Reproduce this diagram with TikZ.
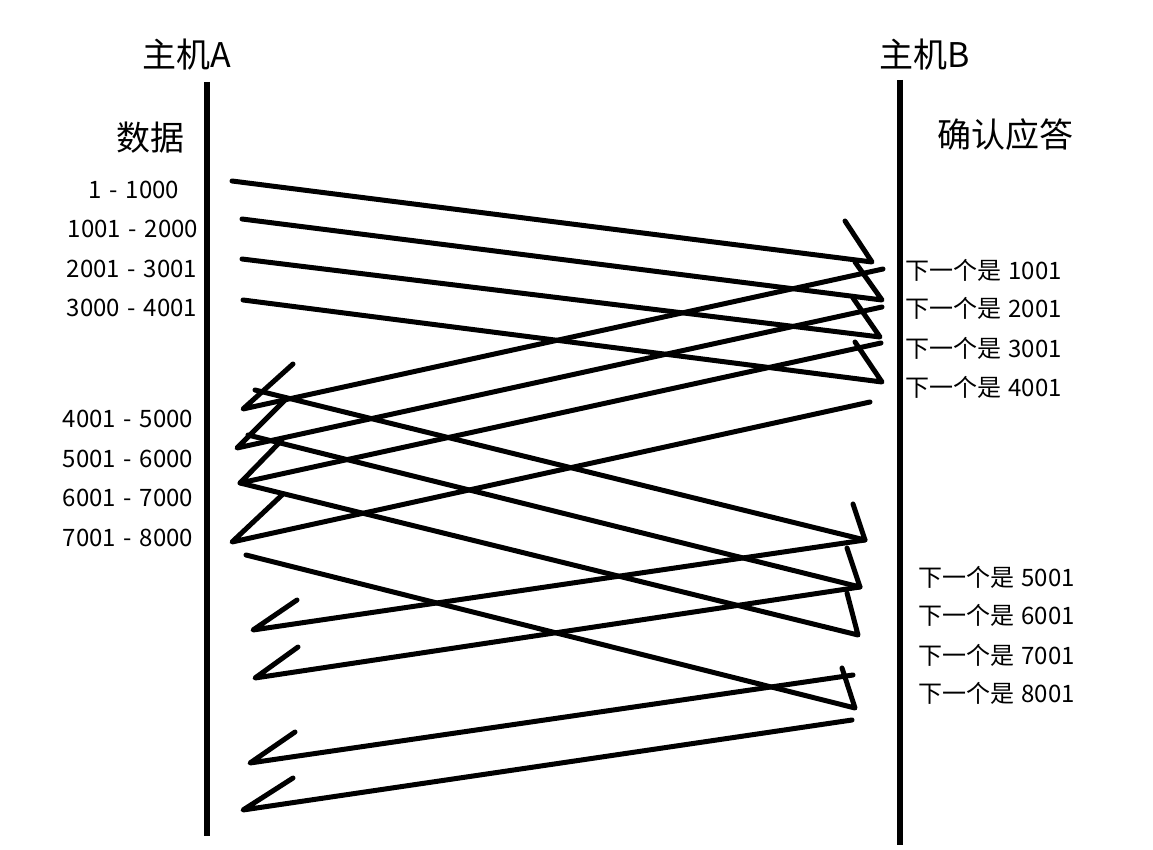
\documentclass[tikz,border=0pt]{standalone}
\usepackage{fontspec}
\setmainfont{Noto Sans CJK SC}
\newcommand\rngsep{\hspace{0.32em}-\hspace{0.32em}}
\begin{document}
\begin{tikzpicture}[x=1pt,y=-1pt,
  msg/.style={line width=5pt, line cap=round, line join=round},
  host/.style={line width=6pt},
  title/.style={font=\fontsize{34}{40}\selectfont, inner sep=0pt},
  lab/.style={font=\fontsize{24}{28}\selectfont, inner sep=0pt}]
\useasboundingbox (0,0) rectangle (1153,850);
\fill[white] (0,0) rectangle (1153,850);

% host lines
\coordinate (At) at (207,82);  \coordinate (Ab) at (207,836);
\coordinate (Bt) at (900,80);  \coordinate (Bb) at (900,845);
\draw[host] (At) -- (Ab);
\draw[host] (Bt) -- (Bb);

% titles
\node[title] (hA) at (187,55) {主机A};
\node[title] (hB) at (925,55) {主机B};
\node[title] (data) at (150,138) {数据};
\node[title] (ack) at (1005,135) {确认应答};

% data labels
\node[lab] (l1) at (134,190) {1\rngsep1000};
\node[lab] (l2) at (133,229) {1001\rngsep2000};
\node[lab] (l3) at (132,269) {2001\rngsep3001};
\node[lab] (l4) at (132,308) {3000\rngsep4001};
\node[lab] (l5) at (128,419) {4001\rngsep5000};
\node[lab] (l6) at (128,459) {5001\rngsep6000};
\node[lab] (l7) at (128,498) {6001\rngsep7000};
\node[lab] (l8) at (128,538) {7001\rngsep8000};

% ack labels
\node[lab,anchor=west] (k1) at (905,270) {下一个是\hspace{0.3em}1001};
\node[lab,anchor=west] (k2) at (905,308) {下一个是\hspace{0.3em}2001};
\node[lab,anchor=west] (k3) at (905,348) {下一个是\hspace{0.3em}3001};
\node[lab,anchor=west] (k4) at (905,387) {下一个是\hspace{0.3em}4001};
\node[lab,anchor=west] (k5) at (918,577) {下一个是\hspace{0.3em}5001};
\node[lab,anchor=west] (k6) at (918,615) {下一个是\hspace{0.3em}6001};
\node[lab,anchor=west] (k7) at (918,655) {下一个是\hspace{0.3em}7001};
\node[lab,anchor=west] (k8) at (918,693) {下一个是\hspace{0.3em}8001};

% data segments A -> B
\coordinate (d1s) at (232,181); \coordinate (d1e) at (872,262); \coordinate (d1t) at (845,221);
\coordinate (d2s) at (242,219); \coordinate (d2e) at (882,300); \coordinate (d2t) at (855,262);
\coordinate (d3s) at (242,259); \coordinate (d3e) at (880,337); \coordinate (d3t) at (853,298);
\coordinate (d4s) at (243,300); \coordinate (d4e) at (882,382); \coordinate (d4t) at (855,342);
\coordinate (d5s) at (255,390); \coordinate (d5e) at (865,540); \coordinate (d5t) at (853,504);
\coordinate (d6s) at (248,435); \coordinate (d6e) at (860,587); \coordinate (d6t) at (847,548);
\coordinate (d7s) at (240,483); \coordinate (d7e) at (858,635); \coordinate (d7t) at (847,593);
\coordinate (d8s) at (246,555); \coordinate (d8e) at (855,708); \coordinate (d8t) at (842,668);

% ack segments B -> A
\coordinate (a1s) at (883,269); \coordinate (a1e) at (243,409); \coordinate (a1t) at (293,364);
\coordinate (a2s) at (882,307); \coordinate (a2e) at (237,448); \coordinate (a2t) at (285,400);
\coordinate (a3s) at (881,343); \coordinate (a3e) at (240,483); \coordinate (a3t) at (282,440);
\coordinate (a4s) at (870,402); \coordinate (a4e) at (232,542); \coordinate (a4t) at (282,495);
\coordinate (a5s) at (865,540); \coordinate (a5e) at (253,630); \coordinate (a5t) at (297,600);
\coordinate (a6s) at (860,587); \coordinate (a6e) at (255,678); \coordinate (a6t) at (298,647);
\coordinate (a7s) at (853,675); \coordinate (a7e) at (250,763); \coordinate (a7t) at (295,732);
\coordinate (a8s) at (852,720); \coordinate (a8e) at (243,810); \coordinate (a8t) at (293,778);

\foreach \i in {1,...,8}{
  \draw[msg] (d\i s) -- (d\i e) -- (d\i t);
  \draw[msg] (a\i s) -- (a\i e) -- (a\i t);
}
\end{tikzpicture}
\end{document}
